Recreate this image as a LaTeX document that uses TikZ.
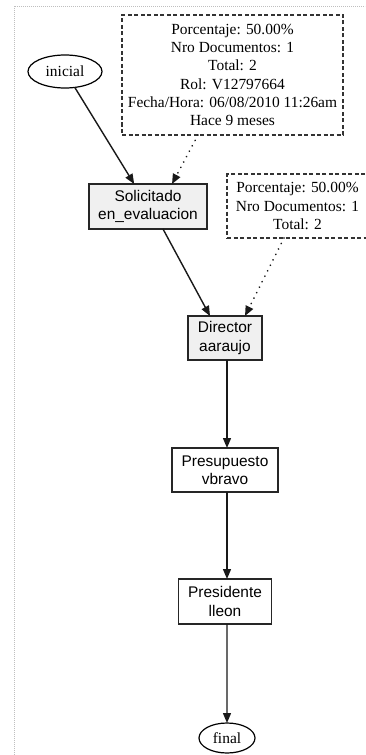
\documentclass[tikz,border=0pt]{standalone}
\usepackage{fontspec}
\setmainfont{Liberation Serif}
\newfontfamily\arialfont{Liberation Sans}
\usetikzlibrary{arrows.meta,shapes.geometric}
\begin{document}
\begin{tikzpicture}[x=1bp,y=-1bp,
  base/.style={inner sep=0pt,outer sep=0pt,align=center,font=\fontsize{15.5}{18}\selectfont},
  stateell/.style={base,ellipse,draw=black,line width=1.2bp},
  graybox/.style={base,draw=black!85,line width=1.7bp,fill=black!6,font=\arialfont\fontsize{15.5}{18.5}\selectfont},
  whitebox/.style={base,draw=black!85,line width=1.2bp,fill=white,font=\arialfont\fontsize{15.5}{18.5}\selectfont},
  notebox/.style={base,draw=black!80,dashed,dash pattern=on 4bp off 2.5bp,line width=1.2bp,font=\fontsize{15.5}{18.2}\selectfont},
  edge/.style={draw=black!90,line width=1.4bp,-{Triangle[length=10bp,width=8bp]}},
  noteedge/.style={draw=black!90,line width=1.8bp,line cap=round,dash pattern=on 0.1bp off 6bp,-{Triangle[length=10bp,width=8bp]}},
  frame/.style={draw=black!25,line width=0.8bp,dash pattern=on 1bp off 1bp}
]
\useasboundingbox (0,0) rectangle (365,755);
\fill[white] (0,0) rectangle (365,755);
\draw[frame] (14,755) -- (14,6) -- (365,6);

\node[stateell,minimum width=74bp,minimum height=33bp] (ini) at (65,71.5) {inicial};
\node[notebox,minimum width=221bp,minimum height=120bp] (n1) at (232.5,75)
  {Porcentaje: 50.00\%\\Nro Documentos: 1\\Total: 2\\Rol: V12797664\\Fecha/Hora: 06/08/2010 11:26am\\Hace 9 meses};
\node[graybox,minimum width=118bp,minimum height=45bp] (sol) at (148,206.5) {Solicitado\\en\_evaluacion};
\node[notebox,minimum width=141bp,minimum height=64bp] (n2) at (297.5,206)
  {Porcentaje: 50.00\%\\Nro Documentos: 1\\Total: 2};
\node[graybox,minimum width=74bp,minimum height=44bp] (dir) at (225,338) {Director\\aaraujo};
\node[whitebox,minimum width=106bp,minimum height=44bp] (pre) at (225,470) {Presupuesto\\vbravo};
\node[whitebox,minimum width=93bp,minimum height=45bp] (pres) at (225,601.5) {Presidente\\lleon};
\node[stateell,minimum width=56bp,minimum height=30bp] (fin) at (227,738) {final};

\draw[edge] (ini) -- (sol);
\draw[noteedge] ([xshift=-34.5bp]n1.south) -- ([xshift=24bp]sol.north);
\draw[edge] ([xshift=15bp]sol.south) -- ([xshift=-15bp]dir.north);
\draw[noteedge] ([xshift=-13.5bp]n2.south) -- ([xshift=20bp]dir.north);
\draw[edge] ([xshift=2bp]dir.south) -- ([xshift=2bp]pre.north);
\draw[edge] ([xshift=2bp]pre.south) -- ([xshift=2bp]pres.north);
\draw[edge] ([xshift=2bp]pres.south) -- (fin);
\end{tikzpicture}
\end{document}
